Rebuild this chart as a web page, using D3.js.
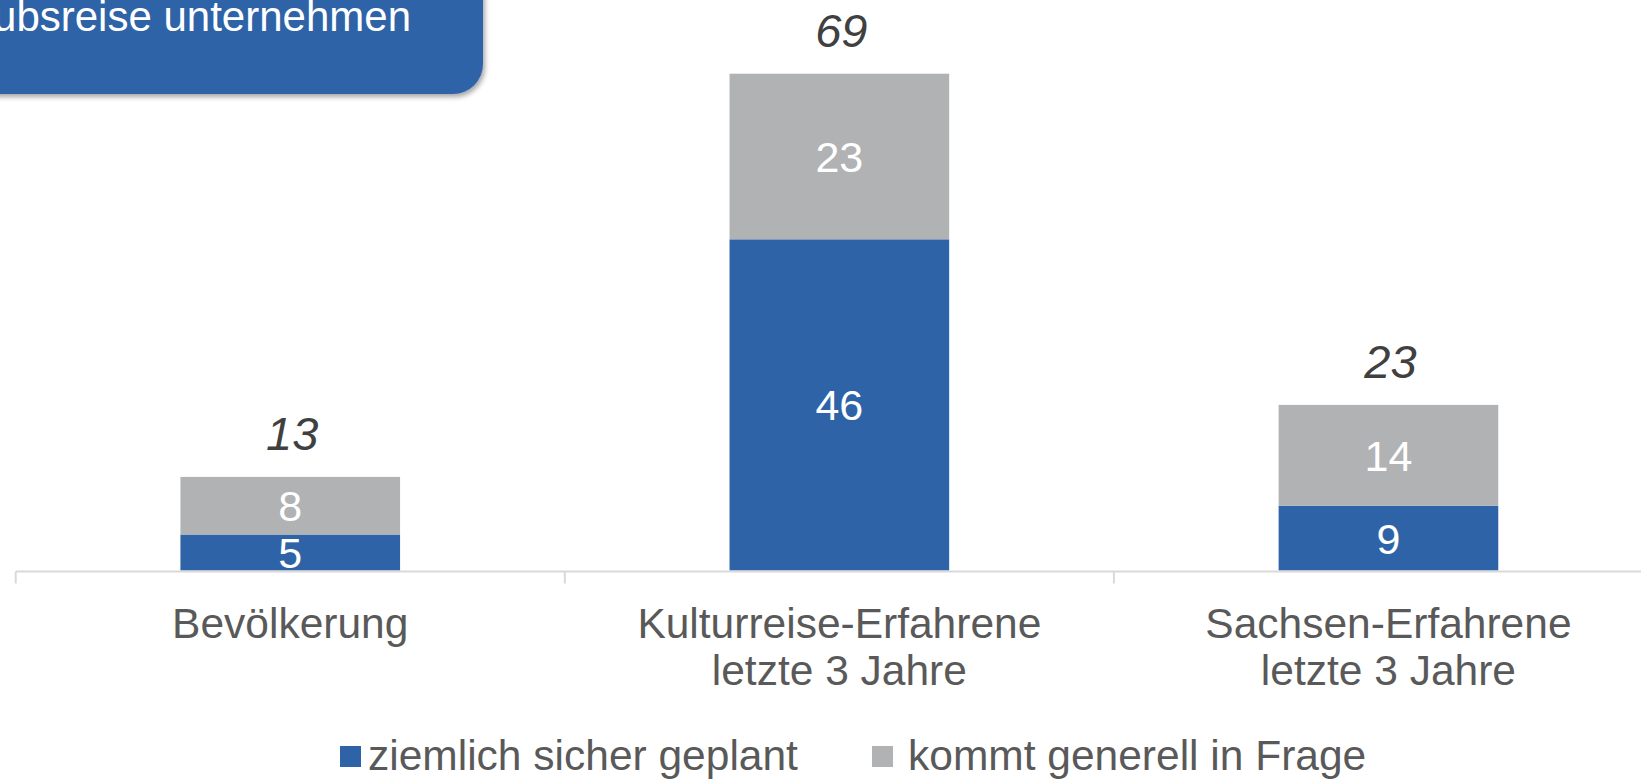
<!DOCTYPE html>
<html>
<head>
<meta charset="utf-8">
<script src="https://cdn.jsdelivr.net/npm/d3@7"></script>
<style>
  html, body { margin: 0; padding: 0; background: #ffffff; overflow: hidden; }
  svg { display: block; font-family: "Liberation Sans", Arial, sans-serif; }
</style>
</head>
<body>
<svg id="chart" width="1641" height="781"></svg>
<script>
// ---- data ----
const categories = ["Bevölkerung", "Kulturreise-Erfahrene letzte 3 Jahre", "Sachsen-Erfahrene letzte 3 Jahre"];
const categoryLines = [["Bevölkerung"], ["Kulturreise-Erfahrene", "letzte 3 Jahre"], ["Sachsen-Erfahrene", "letzte 3 Jahre"]];
const seriesNames = ["ziemlich sicher geplant", "kommt generell in Frage"];
const sicherGeplant = [5, 46, 9];
const generellInFrage = [8, 23, 14];
const totals = [13, 69, 23];
const titleText = "ubsreise unternehmen";

// ---- layout ----
const W = 1641, H = 781;
const baseY = 570.5;
const colors = ["#2E63A8", "#B1B2B4"];

const svg = d3.select("#chart");

// defs: shadow
const defs = svg.append("defs");
const f = defs.append("filter").attr("id", "shadow").attr("x", "-20%").attr("y", "-20%").attr("width", "140%").attr("height", "160%");
f.append("feDropShadow").attr("dx", 2).attr("dy", 3).attr("stdDeviation", 2.5).attr("flood-color", "#000").attr("flood-opacity", 0.35);

// title box (partially cut off)
svg.append("rect")
  .attr("x", -40).attr("y", -60).attr("width", 523).attr("height", 154)
  .attr("rx", 30).attr("ry", 30)
  .attr("fill", "#2E63A8")
  .attr("filter", "url(#shadow)");
svg.append("text")
  .attr("x", 411).attr("y", 31)
  .attr("text-anchor", "end")
  .attr("font-size", 42)
  .attr("fill", "#ffffff")
  .text(titleText);

// scales
const x = d3.scaleBand().domain(categories).range([15.7, 1663]).paddingInner(0.6).paddingOuter(0.3);
const y = d3.scaleLinear().domain([0, 80]).range([baseY, baseY - 576]);

// stack
const rows = categories.map((c, i) => ({ cat: c, s0: sicherGeplant[i], s1: generellInFrage[i], total: totals[i] }));
const stack = d3.stack().keys(["s0", "s1"])(rows);

const g = svg.append("g");
stack.forEach((layer, li) => {
  g.selectAll(null).data(layer).enter().append("rect")
    .attr("x", d => x(d.data.cat))
    .attr("width", x.bandwidth())
    .attr("y", d => y(d[1]))
    .attr("height", d => y(d[0]) - y(d[1]))
    .attr("fill", colors[li]);
  g.selectAll(null).data(layer).enter().append("text")
    .attr("x", d => x(d.data.cat) + x.bandwidth() / 2)
    .attr("y", d => (y(d[0]) + y(d[1])) / 2 + 15.5)
    .attr("text-anchor", "middle")
    .attr("font-size", 43)
    .attr("fill", "#ffffff")
    .text(d => d[1] - d[0]);
});

// totals
g.selectAll(null).data(rows).enter().append("text")
  .attr("x", d => x(d.cat) + x.bandwidth() / 2 + 2)
  .attr("y", d => y(d.total) - 27)
  .attr("text-anchor", "middle")
  .attr("font-size", 47)
  .attr("font-style", "italic")
  .attr("fill", "#404040")
  .text(d => d.total);

// axis
const step = x.step();
const tickXs = categories.map(c => x(c) - (step - x.bandwidth()) / 2);
svg.append("line")
  .attr("x1", tickXs[0]).attr("x2", W + 10)
  .attr("y1", baseY + 1).attr("y2", baseY + 1)
  .attr("stroke", "#D9D9D9").attr("stroke-width", 2);
svg.selectAll(null).data(tickXs).enter().append("line")
  .attr("x1", d => d).attr("x2", d => d)
  .attr("y1", baseY + 1).attr("y2", baseY + 13)
  .attr("stroke", "#D9D9D9").attr("stroke-width", 2);

// category labels
categoryLines.forEach((lines, i) => {
  const t = svg.append("text")
    .attr("text-anchor", "middle")
    .attr("font-size", 42.5)
    .attr("fill", "#595959");
  lines.forEach((ln, j) => {
    t.append("tspan")
      .attr("x", x(categories[i]) + x.bandwidth() / 2)
      .attr("y", 638 + j * 47)
      .text(ln);
  });
});

// legend
const legendItems = [
  { name: seriesNames[0], color: colors[0], sx: 340, tx: 368 },
  { name: seriesNames[1], color: colors[1], sx: 872, tx: 908 }
];
legendItems.forEach(it => {
  svg.append("rect").attr("x", it.sx).attr("y", 746).attr("width", 21).attr("height", 21).attr("fill", it.color);
  svg.append("text").attr("x", it.tx).attr("y", 770).attr("font-size", 42.5).attr("fill", "#595959").text(it.name);
});
</script>
</body>
</html>
